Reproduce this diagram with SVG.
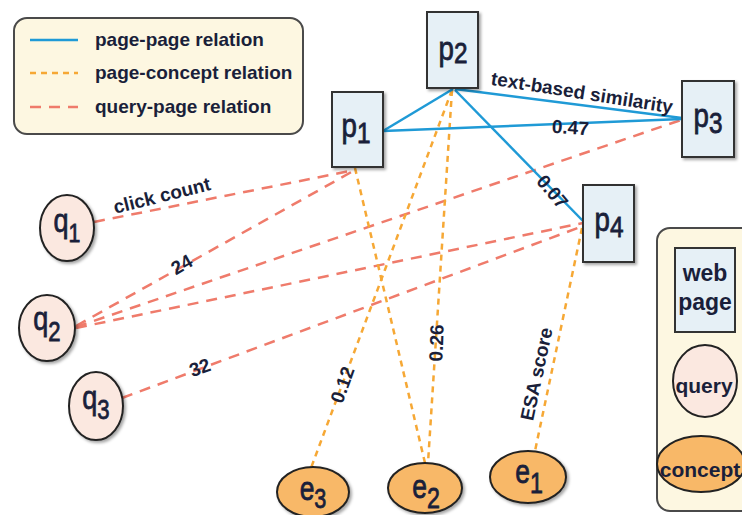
<svg xmlns="http://www.w3.org/2000/svg" width="742" height="515" viewBox="0 0 742 515">
<defs>
<filter id="sh" x="-20%" y="-20%" width="150%" height="150%">
<feDropShadow dx="2" dy="2" stdDeviation="1.5" flood-color="#000" flood-opacity="0.35"/>
</filter>
</defs>
<style>
text{font-family:"Liberation Sans",Arial,sans-serif;fill:#1a1f3a}
.lg{fill:#fdf7e1;stroke:#4a4a4a;stroke-width:2}
.pg{fill:#e6f0f6;stroke:#333;stroke-width:2}
.qy{fill:#fbe8e0;stroke:#222;stroke-width:2}
.cc{fill:#f8b868;stroke:#222;stroke-width:2}
.bl{stroke:#1f9ad6;stroke-width:2.5;fill:none}
.or{stroke:#f6a835;stroke-width:2.5;fill:none;stroke-dasharray:6 5}
.rd{stroke:#ef7b6b;stroke-width:2.5;fill:none;stroke-dasharray:11 8}
.nl{font-size:33px;text-anchor:middle;stroke:#1a1f3a;stroke-width:0.8}
.sub{font-size:29px}
.el{font-size:19px;font-weight:bold;text-anchor:middle}
.lt{font-size:19px;font-weight:bold}
.lb{font-weight:bold;text-anchor:middle}
</style>

<g id="legend">
<rect class="lg" x="14" y="18" width="289" height="116" rx="13"/>
<line class="bl" x1="30" y1="40" x2="78" y2="40"/>
<line class="or" x1="30" y1="73" x2="78" y2="73"/>
<line class="rd" x1="30" y1="107" x2="78" y2="107"/>
<text class="lt" x="95" y="46">page-page relation</text>
<text class="lt" x="95" y="79">page-concept relation</text>
<text class="lt" x="95" y="113">query-page relation</text>
</g>

<g id="connectors">
<line class="rd" x1="94" y1="222" x2="355" y2="170"/>
<line class="rd" x1="76" y1="326" x2="355" y2="170"/>
<line class="rd" x1="76" y1="327" x2="681" y2="120"/>
<line class="rd" x1="76" y1="328" x2="583" y2="223"/>
<line class="rd" x1="122" y1="398" x2="583" y2="226"/>
<line class="or" x1="355" y1="168" x2="425" y2="463"/>
<line class="or" x1="452" y1="90" x2="311" y2="468"/>
<line class="or" x1="452" y1="90" x2="428" y2="463"/>
<line class="or" x1="582" y1="228" x2="535" y2="451"/>
<line class="bl" x1="453" y1="89" x2="383" y2="131"/>
<line class="bl" x1="383" y1="131" x2="682" y2="119"/>
<line class="bl" x1="455" y1="89" x2="682" y2="118"/>
<line class="bl" x1="455" y1="90" x2="583" y2="221"/>
<text class="el" transform="translate(581,99) rotate(9)">text-based similarity</text>
<text class="el" transform="translate(570,134) rotate(4)">0.47</text>
<text class="el" transform="translate(552,192) rotate(50)" dy="6">0.07</text>
<text class="el" transform="translate(162,196) rotate(-14)" dy="6">click count</text>
<text class="el" transform="translate(182,265) rotate(-30)" dy="6">24</text>
<text class="el" transform="translate(200,368) rotate(-20)" dy="6">32</text>
<text class="el" transform="translate(343,385) rotate(-70)" dy="6">0.12</text>
<text class="el" transform="translate(437,343) rotate(-88)" dy="6">0.26</text>
<text class="el" transform="translate(537,374) rotate(-78)" dy="6">ESA score</text>
</g>

<g id="p2"><rect class="pg" filter="url(#sh)" x="427" y="12" width="51" height="76"/><text class="nl" transform="translate(453,60) scale(0.84,1)">p<tspan class="sub" dy="3">2</tspan></text></g>
<g id="p1"><rect class="pg" filter="url(#sh)" x="332" y="92" width="51" height="75"/><text class="nl" transform="translate(356,137) scale(0.84,1)">p<tspan class="sub" dy="6">1</tspan></text></g>
<g id="p3"><rect class="pg" filter="url(#sh)" x="682" y="81" width="52" height="76"/><text class="nl" transform="translate(708,127) scale(0.84,1)">p<tspan class="sub" dy="6">3</tspan></text></g>
<g id="p4"><rect class="pg" filter="url(#sh)" x="583" y="185" width="51" height="77"/><text class="nl" transform="translate(609,231) scale(0.84,1)">p<tspan class="sub" dy="6">4</tspan></text></g>

<g id="q1"><ellipse class="qy" filter="url(#sh)" cx="67" cy="228" rx="27" ry="33"/><text class="nl" transform="translate(67,232) scale(0.82,1)">q<tspan font-size="26" dy="10">1</tspan></text></g>
<g id="q2"><ellipse class="qy" filter="url(#sh)" cx="47" cy="328" rx="28" ry="33"/><text class="nl" transform="translate(47,330) scale(0.82,1)">q<tspan font-size="27" dy="11">2</tspan></text></g>
<g id="q3"><ellipse class="qy" filter="url(#sh)" cx="96" cy="406" rx="27" ry="34"/><text class="nl" transform="translate(96,409) scale(0.82,1)">q<tspan font-size="27" dy="10">3</tspan></text></g>

<g id="e3"><ellipse class="cc" filter="url(#sh)" cx="313" cy="492" rx="36" ry="25"/><text class="nl" transform="translate(313,500) scale(0.8,1)">e<tspan font-size="27" dy="8">3</tspan></text></g>
<g id="e2"><ellipse class="cc" filter="url(#sh)" cx="425" cy="488" rx="37" ry="25"/><text class="nl" transform="translate(426,498) scale(0.8,1)">e<tspan class="sub" dy="10">2</tspan></text></g>
<g id="e1"><ellipse class="cc" filter="url(#sh)" cx="528" cy="477" rx="38" ry="26"/><text class="nl" transform="translate(529,483) scale(0.8,1)">e<tspan class="sub" dy="10">1</tspan></text></g>

<g id="node-legend">
<rect class="lg" x="657" y="228" width="100" height="283" rx="13"/>
<rect class="pg" x="675" y="248" width="60" height="84"/>
<text class="lb" x="705" y="281" font-size="23">web</text>
<text class="lb" x="705" y="310" font-size="23">page</text>
<ellipse class="qy" cx="705" cy="381" rx="32" ry="36"/>
<text class="lb" x="704" y="393" font-size="21">query</text>
<ellipse class="cc" cx="701" cy="464" rx="44" ry="28"/>
<text class="lb" x="700" y="477" font-size="21">concept</text>
</g>
</svg>
